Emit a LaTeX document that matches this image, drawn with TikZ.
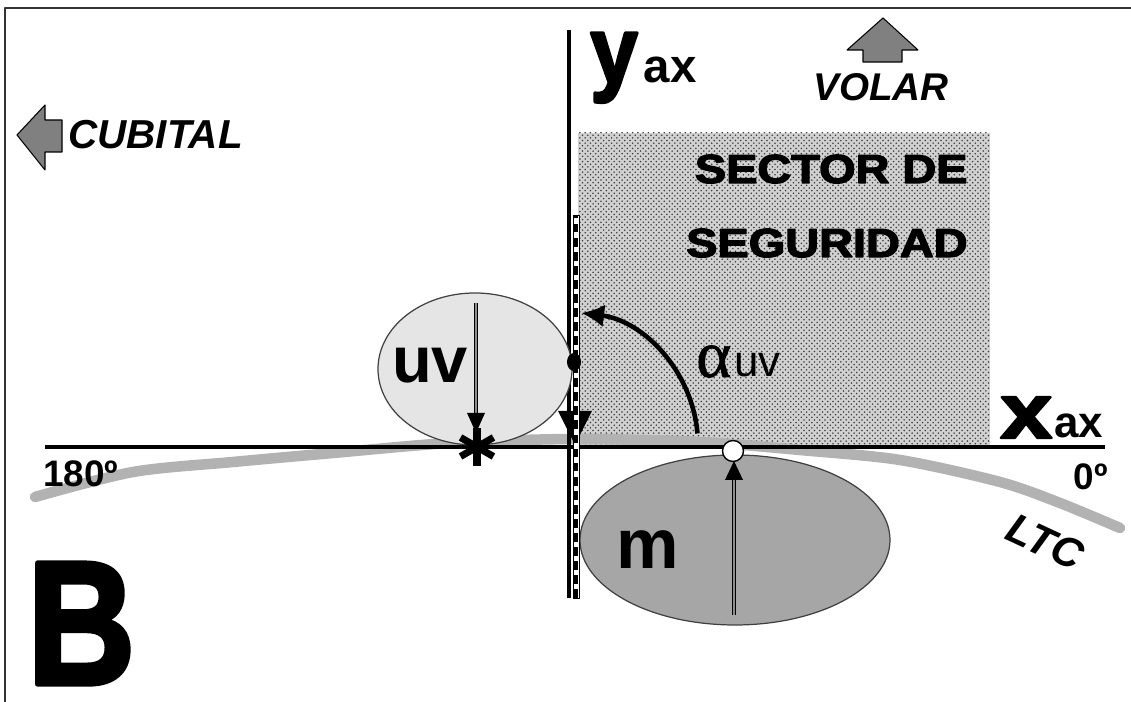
\documentclass[tikz,border=0pt]{standalone}
\usepackage{fontspec}
\setmainfont{Liberation Sans}
\newfontfamily\heavyfont[FakeBold=3]{Liberation Sans Bold}
\newfontfamily\greekfont[FakeBold=1]{Liberation Serif}
\usetikzlibrary{calc,arrows.meta,patterns,positioning}

\begin{document}
\begin{tikzpicture}[
  line join=round,
  >=Latex,
  axisline/.style={black,line width=2.6pt},
  ltcband/.style={black!30,line width=6pt,line cap=round},
  blockarrow/.style={draw=black,fill=black!50,line width=0.6pt},
  lightbody/.style={draw=black!75,fill=black!10,line width=0.7pt},
  darkbody/.style={draw=black!75,fill=black!35,line width=0.7pt},
  shaft/.style={draw=black,double=black!45,double distance=1.4pt,line width=0.6pt},
  heavylabel/.style={font=\heavyfont\fontsize{#1}{#1}\selectfont,inner sep=0pt},
  boldlabel/.style={font=\bfseries\fontsize{#1}{#1}\selectfont,inner sep=0pt},
  sidelabel/.style={font=\bfseries\itshape\fontsize{#1}{#1}\selectfont,inner sep=0pt}
]
\path[use as bounding box] (0,0) rectangle (22.62,14.04);
\draw[black!80,line width=1.2pt] (0.10,0) -- (0.10,13.88) -- (22.62,13.88);

% safety sector
\fill[black!18] (11.56,5.10) rectangle (19.80,11.38);
\fill[pattern=crosshatch dots,pattern color=black!75] (11.56,5.10) rectangle (19.80,11.38);
\node[heavylabel=23,xscale=1.16,anchor=base east] (sector1) at (19.36,10.38) {SECTOR DE};
\node[heavylabel=23,xscale=1.16,anchor=base east] (sector2) at (19.36,8.90) {SEGURIDAD};

% LTC curve
\draw[ltcband] plot[smooth] coordinates {(0.70,4.10) (2.66,4.60) (4.66,4.80)
  (6.66,4.98) (9.00,5.18) (11.50,5.26) (14.00,5.20) (16.00,5.04)
  (18.00,4.84) (20.00,4.40) (21.20,3.98) (22.40,3.48)};
\node[sidelabel=24,rotate=-25] (ltc) at (20.90,3.20) {LTC};

% axes
\draw[axisline] (0.90,5.10) coordinate (xleft) -- (22.10,5.10) coordinate (xright);
\draw[black,line width=2pt] (11.38,2.08) coordinate (ybottom) -- (11.38,13.44) coordinate (ytop);
\node[boldlabel=21,anchor=west] (deg180) at (0.86,4.56) {180º};
\node[boldlabel=21,anchor=east] (deg0) at (22.16,4.50) {0º};

\node[heavylabel=54,xscale=0.9,anchor=base west] (ylbl) at (11.80,12.38) {y};
\node[boldlabel=27,right=3pt of ylbl.base east,anchor=base west] (yax) {ax};
\node[heavylabel=44,xscale=1.2,anchor=base west] (xlbl) at (20.00,5.28) {x};
\node[boldlabel=25,right=1pt of xlbl.base east,anchor=base west] (xax) {ax};

% ulnar-volar body
\draw[lightbody] (9.50,6.66) ellipse[x radius=1.94,y radius=1.52];
\node[boldlabel=37] (uv) at (8.60,6.72) {uv};
\coordinate (uvtop) at (9.52,7.98);
\coordinate (uvneck) at (9.52,5.78);
\coordinate (uvtip) at (9.52,5.38);
\draw[shaft] (uvtop) -- (uvneck);
\fill ($(uvneck)+(-0.18,0)$) -- ($(uvneck)+(0.18,0)$) -- (uvtip) -- cycle;
\coordinate (star) at (9.54,5.10);
\draw[line width=4pt] ($(star)+(90:0.38)$) -- ($(star)+(270:0.38)$);
\draw[line width=4pt] ($(star)+(30:0.38)$) -- ($(star)+(210:0.38)$);
\draw[line width=4pt] ($(star)+(150:0.38)$) -- ($(star)+(330:0.38)$);

% median body
\draw[darkbody] (14.70,3.24) ellipse[x radius=3.10,y radius=1.70];
\node[boldlabel=40] (m) at (12.96,3.04) {m};
\coordinate (mbottom) at (14.68,1.74);
\coordinate (mneck) at (14.68,4.44);
\coordinate (mtip) at (14.68,4.82);
\draw[shaft] (mbottom) -- (mneck);
\fill ($(mneck)+(-0.18,0)$) -- ($(mneck)+(0.18,0)$) -- (mtip) -- cycle;
\node[circle,draw=black,fill=white,line width=0.8pt,minimum size=0.42cm,inner sep=0pt] (contact) at (14.66,5.02) {};

% dashed line on y axis
\fill (11.16,5.82) -- (11.84,5.82) -- (11.50,5.14) -- cycle;
\draw[black,line width=0.4pt,fill=white] (11.46,2.08) rectangle (11.58,9.74);
\draw[black,line width=2.2pt,dash pattern=on 5pt off 3pt] (11.52,2.08) -- (11.52,9.74);
\fill (11.48,6.80) ellipse[x radius=0.14,y radius=0.18];

% angle
\coordinate (origin) at (11.30,5.14);
\draw[black,line width=2.6pt,-{Latex[length=13pt,width=13pt]}]
  ($(origin)+(5:2.66)$) arc[start angle=5,end angle=83,radius=2.66];
\node[font=\greekfont\fontsize{38}{38}\selectfont,inner sep=0pt,anchor=base west] (alpha) at (13.92,6.50) {α};
\node[font=\fontsize{25}{25}\selectfont,inner sep=0pt,anchor=base west] (alphauv) at ($(alpha.base east)+(0.04,0)$) {uv};

% directions
\draw[blockarrow] (0.34,11.34) -- (0.90,11.94) -- (0.90,11.64) -- (1.24,11.64)
  -- (1.24,11.00) -- (0.90,11.00) -- (0.90,10.64) -- cycle;
\node[sidelabel=23,anchor=west] (cubital) at (1.36,11.34) {CUBITAL};
\draw[blockarrow] (17.66,13.68) -- (18.36,13.04) -- (18.04,13.04) -- (18.04,12.80)
  -- (17.26,12.80) -- (17.26,13.04) -- (16.94,13.04) -- cycle;
\node[sidelabel=22] (volar) at (17.62,12.30) {VOLAR};

\node[heavylabel=100,xscale=0.85,anchor=base west] (panel) at (0.54,0.36) {B};
\end{tikzpicture}
\end{document}
